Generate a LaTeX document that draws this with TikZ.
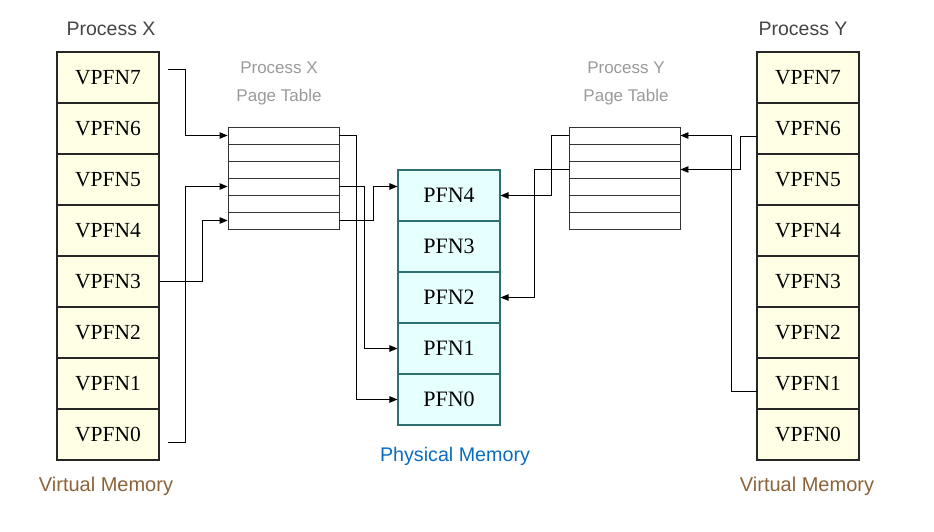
\documentclass[tikz,border=0pt]{standalone}
\usepackage{fontspec}
\setmainfont{Liberation Serif}
\newfontfamily\labelfont{Liberation Sans}
\usetikzlibrary{arrows.meta}
\definecolor{vmfill}{HTML}{FFFFE6}
\definecolor{pmfill}{HTML}{E6FFFF}
\definecolor{pmdraw}{HTML}{2F6F6F}
\definecolor{vmtext}{HTML}{8C6239}
\definecolor{pmtext}{HTML}{0A6CC0}
\definecolor{ptlabel}{HTML}{9A9A9A}
\definecolor{proclabel}{HTML}{444444}
\tikzset{
  vcell/.style={draw=black!85, fill=vmfill, line width=1.1pt, minimum width=102pt, minimum height=51pt, inner sep=0pt, font=\fontsize{21.5}{24}\selectfont},
  pcell/.style={draw=pmdraw, fill=pmfill, line width=1.1pt, minimum width=102pt, minimum height=51pt, inner sep=0pt, font=\fontsize{22}{24}\selectfont},
  tcell/.style={draw=black!80, fill=white, line width=0.9pt, minimum width=111pt, minimum height=17pt, inner sep=0pt},
  conn/.style={draw=black, line width=0.9pt},
  arr/.style={conn, -{Triangle[length=8pt,width=6.5pt]}},
  proc/.style={font=\labelfont\fontsize{19.5}{22}\selectfont, text=proclabel},
  ptl/.style={font=\labelfont\fontsize{17}{28}\selectfont, text=ptlabel, align=center},
  vml/.style={font=\labelfont\fontsize{20}{22}\selectfont, text=vmtext},
  pml/.style={font=\labelfont\fontsize{19.7}{22}\selectfont, text=pmtext},
}
\begin{document}
\begin{tikzpicture}[x=1pt,y=-1pt]
\useasboundingbox (0,0) rectangle (934,532);
% virtual memory columns
\foreach \i/\n in {0/7,1/6,2/5,3/4,4/3,5/2,6/1,7/0}{
  \node[vcell] (x\n) at (108,77.5+51*\i) {VPFN\n};
  \node[vcell] (y\n) at (808,77.5+51*\i) {VPFN\n};
}
% physical memory
\foreach \i/\n in {0/4,1/3,2/2,3/1,4/0}{
  \node[pcell] (p\n) at (449,195.5+51*\i) {PFN\n};
}
% page tables
\foreach \i in {0,...,5}{
  \node[tcell] (px\i) at (283.5,135.5+17*\i) {};
  \node[tcell] (py\i) at (624.5,135.5+17*\i) {};
}
% labels
\node[proc] (lpx) at (111,29) {Process X};
\node[proc] (lpy) at (803,29) {Process Y};
\node[ptl] (lptx) at (279,83) {Process X\\Page Table};
\node[ptl] (lpty) at (626,83) {Process Y\\Page Table};
\node[vml] (lvx) at (106,486) {Virtual Memory};
\node[vml] (lvy) at (807,486) {Virtual Memory};
\node[pml] (lpm) at (455,456) {Physical Memory};
% connector start points
\coordinate (c7) at (168,69);
\coordinate (c0) at (168,442);
\coordinate (d6) at (757,136);
\coordinate (d1) at (757,391);
% process X -> page table
\draw[arr] (c7) -- ++(17,0) |- (px0.west);
\draw[arr] (x3.east) -- ++(43,0) |- (px5.west);
\draw[arr] (c0) -- ++(17,0) |- (px3.west);
% page table X -> physical
\draw[arr] (px0.east) -- ++(17,0) |- (p0.west);
\draw[arr] (px3.east) -- ++(25,0) |- (p1.west);
\draw[arr] (px5.east) -- ++(34,0) |- (p4.west |- px3.east);
% process Y -> page table
\draw[arr] (d6) -- ++(-17,0) |- (py2.east);
\draw[arr] (d1) -- ++(-26,0) |- (py0.east);
% page table Y -> physical
\draw[arr] (py0.west) -- ++(-17,0) |- (p4.east);
\draw[arr] (py2.west) -- ++(-34,0) |- (p2.east);
\end{tikzpicture}
\end{document}
